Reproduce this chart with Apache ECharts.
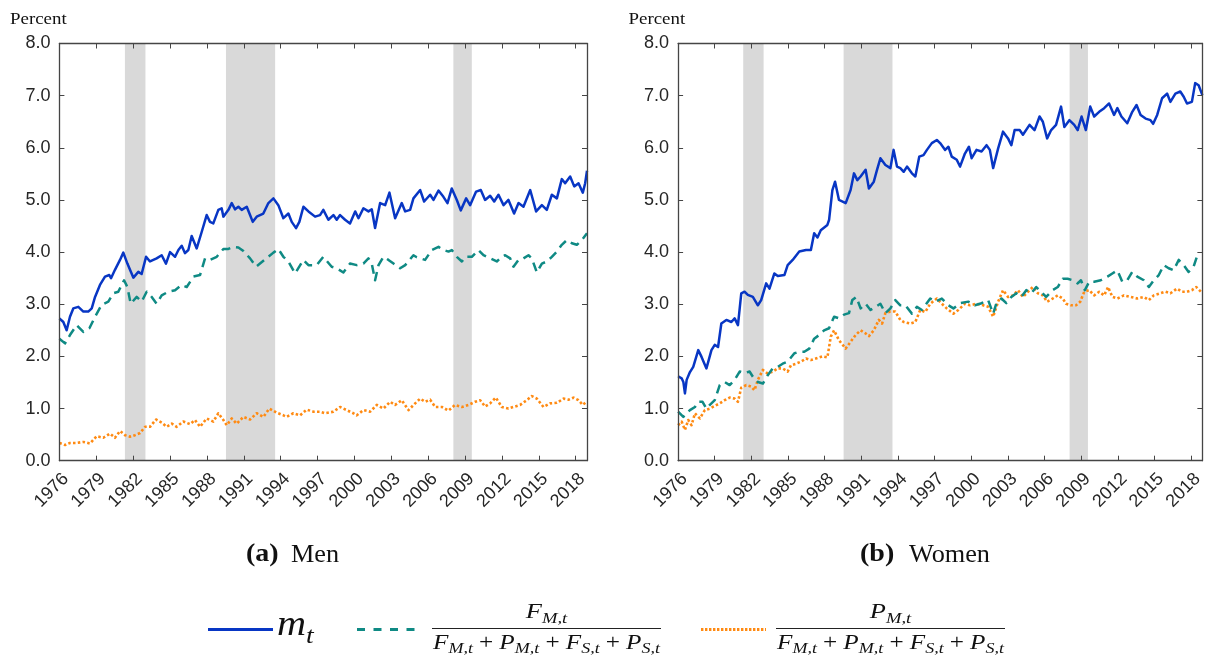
<!DOCTYPE html>
<html>
<head>
<meta charset="utf-8">
<script src="https://cdn.jsdelivr.net/npm/echarts@6/dist/echarts.min.js"></script>
<style>
html,body{margin:0;padding:0;background:#fff;}
#chart{width:1206px;height:655px;}
</style>
</head>
<body>
<div id="chart"></div>
<script>
// ---------------- DATA ----------------
const xTickYears = [1976, 1979, 1982, 1985, 1988, 1991, 1994, 1997, 2000, 2003, 2006, 2009, 2012, 2015, 2018];
const yTickLabels = ['0.0', '1.0', '2.0', '3.0', '4.0', '5.0', '6.0', '7.0', '8.0'];
const recessionStart = [1981.33, 1989.55, 2008.05];
const recessionEnd   = [1983.00, 1993.55, 2009.55];

// Men: m_t (solid blue)
const menMYears = [1976.00,1976.32,1976.59,1976.86,1977.13,1977.54,1977.95,1978.35,1978.63,1978.90,1979.30,1979.71,1980.06,1980.20,1980.52,1980.93,1981.20,1981.53,1982.02,1982.42,1982.69,1983.05,1983.37,1983.91,1984.32,1984.67,1985.00,1985.41,1985.68,1985.95,1986.22,1986.49,1986.76,1987.17,1987.58,1987.98,1988.25,1988.52,1988.93,1989.20,1989.34,1989.75,1990.02,1990.29,1990.56,1990.83,1991.24,1991.51,1991.73,1992.05,1992.59,1993.00,1993.41,1993.81,1994.22,1994.63,1994.90,1995.25,1995.52,1995.85,1996.26,1996.80,1997.20,1997.47,1997.88,1998.29,1998.56,1998.83,1999.24,1999.64,2000.06,2000.33,2000.73,2001.14,2001.41,2001.68,2002.09,2002.50,2002.85,2003.31,2003.85,2004.13,2004.53,2004.80,2005.35,2005.67,2006.16,2006.43,2006.84,2007.24,2007.57,2007.92,2008.33,2008.65,2009.09,2009.41,2009.90,2010.28,2010.63,2011.04,2011.37,2011.72,2012.13,2012.53,2012.99,2013.35,2013.75,2014.30,2014.78,2015.25,2015.65,2016.06,2016.47,2016.87,2017.14,2017.55,2017.88,2018.23,2018.58,2018.77,2018.92];
const menMVals = [2.73,2.66,2.50,2.76,2.92,2.95,2.86,2.86,2.92,3.14,3.37,3.53,3.56,3.50,3.66,3.85,3.99,3.78,3.51,3.62,3.58,3.91,3.82,3.88,3.94,3.78,4.00,3.91,4.04,4.12,3.98,4.04,4.31,4.07,4.39,4.71,4.58,4.55,4.81,4.84,4.68,4.81,4.94,4.82,4.87,4.81,4.87,4.71,4.58,4.68,4.74,4.94,5.03,4.90,4.65,4.74,4.58,4.46,4.58,4.87,4.78,4.68,4.71,4.81,4.62,4.71,4.62,4.71,4.62,4.55,4.78,4.65,4.84,4.78,4.82,4.46,4.94,4.90,5.14,4.65,4.94,4.78,4.81,5.03,5.19,4.97,5.10,5.00,5.18,5.06,4.94,5.22,5.00,4.80,5.03,4.90,5.16,5.19,5.00,5.08,4.97,5.10,4.90,5.00,4.74,4.94,4.87,5.19,4.78,4.90,4.81,5.10,5.03,5.40,5.32,5.45,5.26,5.32,5.14,5.32,5.56];

// Men: F share (dashed teal)
const menFYears = [1976.00,1976.46,1976.86,1977.40,1977.95,1978.44,1978.90,1979.44,1979.98,1980.39,1980.79,1981.26,1981.53,1981.80,1982.29,1982.69,1983.10,1983.51,1983.91,1984.32,1984.86,1985.41,1985.95,1986.36,1986.90,1987.44,1987.85,1988.25,1988.80,1989.34,1989.75,1990.15,1990.56,1990.97,1991.51,1992.00,1992.32,1993.00,1993.41,1993.81,1994.22,1994.63,1995.17,1995.85,1996.26,1996.93,1997.47,1998.15,1998.56,1999.10,1999.64,2000.19,2000.73,2001.14,2001.41,2001.68,2001.96,2002.36,2002.77,2003.18,2003.72,2004.13,2004.80,2005.07,2005.75,2006.29,2006.84,2007.24,2007.65,2007.92,2008.33,2008.74,2009.01,2009.55,2010.09,2010.50,2011.04,2011.58,2011.99,2012.26,2012.67,2012.94,2013.35,2013.75,2014.16,2014.43,2014.84,2015.25,2015.65,2016.06,2016.47,2016.87,2017.28,2017.69,2018.09,2018.50,2018.92];
const menFVals = [2.34,2.25,2.41,2.60,2.47,2.54,2.76,2.99,3.05,3.21,3.24,3.46,3.33,3.01,3.14,3.05,3.24,3.14,3.01,3.17,3.24,3.27,3.37,3.33,3.53,3.56,3.88,3.85,3.91,4.06,4.06,4.10,4.09,4.02,3.88,3.72,3.78,3.91,3.99,4.06,3.91,3.82,3.59,3.85,3.75,3.75,3.91,3.72,3.69,3.61,3.78,3.75,3.78,3.88,3.78,3.46,3.75,3.91,3.85,3.78,3.69,3.75,3.94,3.90,3.85,4.04,4.10,4.04,4.01,4.04,3.91,3.82,3.91,3.91,4.04,3.94,3.88,3.82,3.91,3.94,3.88,3.72,3.85,3.88,3.94,3.88,3.61,3.78,3.82,3.91,4.01,4.14,4.23,4.17,4.14,4.23,4.36];

// Men: P share (dotted orange)
const menPYears = [1976.00,1976.46,1976.86,1977.40,1977.95,1978.49,1979.03,1979.57,1980.12,1980.52,1980.93,1981.34,1981.74,1982.15,1982.56,1982.97,1983.37,1983.86,1984.32,1984.73,1985.14,1985.54,1986.08,1986.63,1987.03,1987.44,1987.98,1988.52,1988.93,1989.34,1989.61,1990.02,1990.42,1990.97,1991.51,1992.05,1992.59,1993.08,1993.68,1994.22,1994.49,1995.03,1995.58,1996.12,1996.67,1997.20,1997.61,1998.29,1998.83,1999.37,1999.91,2000.19,2000.73,2001.28,2001.82,2002.36,2002.90,2003.31,2003.85,2004.40,2004.94,2005.35,2005.75,2006.16,2006.57,2007.11,2007.65,2008.19,2008.74,2009.28,2009.82,2010.23,2010.63,2011.04,2011.50,2011.99,2012.53,2012.94,2013.48,2014.02,2014.43,2014.84,2015.38,2015.92,2016.47,2017.01,2017.41,2017.82,2018.23,2018.58,2018.92];
const menPVals = [0.34,0.30,0.34,0.34,0.36,0.33,0.47,0.44,0.52,0.44,0.57,0.49,0.46,0.49,0.53,0.65,0.65,0.79,0.73,0.65,0.71,0.65,0.75,0.70,0.78,0.65,0.81,0.75,0.91,0.78,0.68,0.81,0.71,0.84,0.79,0.91,0.84,1.00,0.92,0.87,0.84,0.91,0.87,0.98,0.94,0.94,0.91,0.94,1.03,0.97,0.91,0.87,0.97,0.94,1.07,1.00,1.13,1.07,1.16,0.97,1.10,1.19,1.13,1.17,1.03,1.03,0.96,1.07,1.03,1.07,1.13,1.16,1.04,1.10,1.21,1.03,1.00,1.03,1.07,1.16,1.24,1.19,1.03,1.10,1.11,1.19,1.17,1.21,1.16,1.07,1.14];

// Women: m_t (solid blue)
const womMYears = [1976.00,1976.29,1976.43,1976.56,1976.70,1976.97,1977.24,1977.65,1977.92,1978.32,1978.73,1979.00,1979.27,1979.54,1979.95,1980.36,1980.63,1980.90,1981.17,1981.44,1981.71,1982.12,1982.53,1982.80,1983.21,1983.48,1983.88,1984.16,1984.70,1984.97,1985.38,1985.92,1986.47,1986.87,1987.14,1987.41,1987.68,1988.22,1988.36,1988.63,1988.85,1989.17,1989.72,1990.12,1990.40,1990.67,1990.94,1991.35,1991.62,1992.02,1992.29,1992.56,1992.97,1993.38,1993.64,1993.92,1994.19,1994.47,1994.74,1995.14,1995.42,1995.74,1996.09,1996.37,1996.77,1997.18,1997.45,1997.86,1998.13,1998.40,1998.81,1999.08,1999.48,1999.81,2000.03,2000.43,2000.84,2001.25,2001.52,2001.79,2002.20,2002.60,2003.01,2003.28,2003.55,2003.96,2004.23,2004.77,2005.18,2005.59,2005.86,2006.21,2006.54,2006.94,2007.35,2007.62,2008.03,2008.43,2008.71,2009.03,2009.38,2009.74,2010.06,2010.47,2010.88,2011.28,2011.69,2011.96,2012.29,2012.77,2013.18,2013.53,2013.86,2014.27,2014.67,2014.89,2015.22,2015.62,2016.03,2016.30,2016.71,2017.11,2017.39,2017.66,2018.06,2018.33,2018.61,2018.92];
const womMVals = [1.62,1.58,1.51,1.29,1.55,1.70,1.80,2.12,1.99,1.77,2.12,2.22,2.18,2.63,2.70,2.66,2.73,2.60,3.21,3.24,3.18,3.14,2.98,3.08,3.40,3.30,3.59,3.54,3.56,3.75,3.85,4.01,4.04,4.04,4.36,4.28,4.42,4.52,4.62,5.19,5.35,5.00,4.94,5.19,5.51,5.38,5.45,5.58,5.22,5.35,5.58,5.80,5.67,5.61,5.96,5.64,5.61,5.54,5.64,5.51,5.45,5.83,5.86,5.96,6.09,6.15,6.09,5.96,6.02,5.83,5.77,5.64,5.89,6.02,5.80,5.96,5.93,6.05,5.96,5.61,5.99,6.31,6.18,6.05,6.34,6.34,6.25,6.44,6.34,6.60,6.50,6.18,6.34,6.44,6.79,6.40,6.53,6.44,6.34,6.60,6.34,6.79,6.60,6.69,6.76,6.85,6.63,6.76,6.60,6.47,6.69,6.82,6.63,6.56,6.53,6.46,6.63,6.95,7.04,6.88,7.04,7.08,6.98,6.85,6.88,7.24,7.20,7.01];

// Women: F share (dashed teal)
const womFYears = [1976.00,1976.43,1976.70,1976.97,1977.38,1977.65,1978.00,1978.32,1978.60,1979.00,1979.41,1979.81,1980.22,1980.63,1981.04,1981.44,1981.85,1982.12,1982.53,1982.94,1983.34,1983.75,1984.16,1984.56,1984.97,1985.52,1985.92,1986.33,1986.74,1987.14,1987.55,1987.95,1988.36,1988.77,1989.17,1989.58,1989.99,1990.26,1990.59,1990.94,1991.35,1991.75,1992.16,1992.56,1992.97,1993.38,1993.78,1994.19,1994.60,1995.14,1995.55,1995.96,1996.64,1997.04,1997.59,1998.13,1998.54,1999.08,1999.76,2000.30,2000.84,2001.38,2001.79,2002.06,2002.47,2002.87,2003.28,2003.69,2004.10,2004.50,2004.91,2005.32,2005.72,2006.13,2006.67,2007.08,2007.49,2007.89,2008.30,2008.71,2008.98,2009.30,2009.65,2010.06,2010.60,2011.15,2011.55,2011.96,2012.37,2012.77,2013.18,2013.59,2014.13,2014.54,2014.94,2015.35,2015.76,2016.16,2016.57,2016.98,2017.39,2017.79,2018.20,2018.47,2018.80];
const womFVals = [0.94,0.84,0.91,0.97,1.03,1.13,1.13,1.00,1.07,1.16,1.45,1.51,1.45,1.55,1.71,1.68,1.71,1.61,1.51,1.48,1.64,1.77,1.80,1.86,1.90,2.06,2.09,2.09,2.15,2.34,2.41,2.50,2.54,2.76,2.73,2.80,2.83,3.08,3.14,2.92,3.01,2.89,2.95,3.01,2.83,2.92,3.08,2.98,2.98,2.82,2.95,2.89,3.11,3.05,3.11,2.98,2.92,3.02,3.05,2.98,3.02,3.08,2.82,3.02,3.11,3.02,3.14,3.21,3.14,3.27,3.21,3.33,3.24,3.14,3.27,3.33,3.49,3.49,3.46,3.40,3.46,3.27,3.43,3.43,3.46,3.53,3.59,3.65,3.43,3.46,3.62,3.53,3.46,3.33,3.46,3.56,3.75,3.69,3.65,3.85,3.75,3.62,3.72,3.91,3.97];

// Women: P share (dotted orange)
const womPYears = [1976.00,1976.29,1976.56,1976.83,1977.10,1977.38,1977.78,1978.19,1978.60,1979.00,1979.41,1979.81,1980.22,1980.63,1980.90,1981.17,1981.58,1981.98,1982.25,1982.53,1982.94,1983.34,1983.75,1984.16,1984.56,1984.97,1985.24,1985.65,1986.06,1986.47,1986.87,1987.28,1987.82,1988.22,1988.50,1988.77,1989.17,1989.72,1990.12,1990.53,1990.94,1991.35,1991.62,1992.02,1992.43,1992.70,1992.97,1993.38,1993.78,1994.19,1994.47,1995.01,1995.42,1995.82,1996.23,1996.64,1997.18,1997.59,1997.99,1998.54,1998.94,1999.48,1999.89,2000.43,2000.98,2001.38,2001.79,2002.20,2002.60,2003.01,2003.42,2003.82,2004.23,2004.64,2005.04,2005.45,2005.86,2006.21,2006.67,2007.08,2007.49,2007.76,2008.16,2008.57,2008.92,2009.25,2009.65,2010.06,2010.47,2010.88,2011.20,2011.55,2011.96,2012.50,2013.05,2013.59,2014.13,2014.54,2014.94,2015.49,2015.89,2016.30,2016.84,2017.25,2017.66,2018.06,2018.42,2018.80];
const womPVals = [0.68,0.75,0.59,0.78,0.68,0.91,0.81,0.97,1.00,1.05,1.10,1.16,1.21,1.19,1.13,1.40,1.45,1.42,1.35,1.55,1.74,1.67,1.71,1.77,1.77,1.71,1.83,1.86,1.90,1.96,1.93,1.96,2.00,1.98,2.38,2.50,2.31,2.15,2.28,2.41,2.50,2.44,2.39,2.50,2.70,2.63,2.83,2.86,2.86,2.70,2.66,2.63,2.66,2.89,2.85,3.01,3.11,3.01,2.92,2.82,2.89,3.01,2.98,3.01,2.98,2.95,2.76,3.05,3.27,3.14,3.17,3.27,3.14,3.24,3.33,3.21,3.17,3.05,3.11,3.17,3.11,3.01,2.98,2.98,3.05,3.24,3.27,3.17,3.24,3.17,3.33,3.14,3.11,3.17,3.14,3.11,3.14,3.08,3.17,3.21,3.24,3.21,3.30,3.24,3.24,3.27,3.33,3.24];

// ---------------- CHART ----------------
const X0 = xTickYears[0];
const XMAX = 2018.92 - X0;
const COL_BLUE = '#0836c4', COL_TEAL = '#0f8a84', COL_ORANGE = '#ff8a12';
const AX_COL = '#454545';
const SANS = '"Liberation Sans", Arial, Helvetica, sans-serif';
const SERIF = '"Liberation Serif", "Times New Roman", serif';

function pts(years, vals) { return years.map((y, i) => [+(y - X0).toFixed(3), vals[i]]); }

const grids = [
  { left: 59.4, top: 43.5, width: 527.6, height: 417.2 },
  { left: 678.1, top: 43.5, width: 527.4, height: 417.2 }
];

function xAx(gi, pos) {
  const main = pos === 'bottom';
  return {
    type: 'value', gridIndex: gi, position: pos, min: 0, max: XMAX, interval: 3, z: 10,
    axisLine: { show: true, onZero: false, lineStyle: { color: AX_COL, width: 1.3 } },
    axisTick: { show: true, inside: true, length: 5, lineStyle: { color: AX_COL, width: 1 } },
    splitLine: { show: false },
    axisLabel: {
      show: main, rotate: 45, margin: 9, fontSize: 18, fontFamily: SANS, color: '#262626',
      align: 'right', verticalAlign: 'top', showMaxLabel: false, hideOverlap: false,
      formatter: v => {
        const yr = Math.round(v) + X0;
        return (Math.abs(v - Math.round(v)) < 1e-6 && xTickYears.indexOf(yr) >= 0) ? String(yr) : '';
      }
    }
  };
}
function yAx(gi, pos) {
  const main = pos === 'left';
  return {
    type: 'value', gridIndex: gi, position: pos, min: 0, max: 8, interval: 1, z: 10,
    axisLine: { show: true, onZero: false, lineStyle: { color: AX_COL, width: 1.3 } },
    axisTick: { show: true, inside: true, length: 5, lineStyle: { color: AX_COL, width: 1 } },
    splitLine: { show: false },
    axisLabel: {
      show: main, margin: 9, fontSize: 18, fontFamily: SANS, color: '#262626',
      formatter: v => yTickLabels[Math.round(v)] || ''
    }
  };
}

function recessionSeries(gi) {
  return {
    type: 'custom', xAxisIndex: gi, yAxisIndex: gi, z: 1, silent: true, clip: true,
    encode: { x: [0, 1] },
    data: recessionStart.map((s, i) => [s - X0, recessionEnd[i] - X0]),
    renderItem: (params, api) => {
      const p0 = api.coord([api.value(0), 8]);
      const p1 = api.coord([api.value(1), 0]);
      return { type: 'rect', shape: { x: p0[0], y: p0[1], width: p1[0] - p0[0], height: p1[1] - p0[1] },
               style: { fill: '#d9d9d9' } };
    }
  };
}
function lineSeries(gi, years, vals, color, dash, width, z) {
  return {
    type: 'line', xAxisIndex: gi, yAxisIndex: gi, data: pts(years, vals), showSymbol: false, symbol: 'none',
    silent: true, z: z, clip: true,
    lineStyle: { color: color, width: width, type: dash, cap: 'butt', join: 'round' }
  };
}

// ---- math text helper for legend ----
const mctx = document.createElement('canvas').getContext('2d');
const MSX = 1.2; // horizontal stretch to mimic Computer Modern widths
function fontOf(p) { return (p.bold ? 'bold ' : '') + (p.italic ? 'italic ' : '') + p.size + 'px ' + SERIF; }
function tw(p) { mctx.font = fontOf(p); return mctx.measureText(p.t).width * (p.sx || 1); }
function mathRow(parts, cx, baseline, target, left) {
  parts.forEach(p => { if (p.sx === undefined) p.sx = MSX; });
  const ws = parts.map(tw);
  const nat = ws.reduce((a, b) => a + b, 0);
  const nOps = parts.filter(p => p.op).length;
  const pad = (target && nOps) ? Math.max(0, (target - nat) / (2 * nOps)) : 0;
  const total = nat + pad * 2 * nOps;
  let x = left !== undefined ? left : cx - total / 2;
  const els = [];
  parts.forEach((p, i) => {
    if (p.op) x += pad;
    els.push({
      type: 'text', x: x, y: baseline + (p.dy || 0) - 0.32 * p.size, scaleX: p.sx, silent: true,
      style: { text: p.t, font: fontOf(p), fill: '#111', align: 'left', verticalAlign: 'middle' }
    });
    x += ws[i];
    if (p.op) x += pad;
  });
  return els;
}
function denomParts() {
  const M = 21, S = 15, d = 3.5;
  return [
    { t: 'F', size: M, italic: true }, { t: 'M,t', size: S, italic: true, dy: d },
    { t: '+', size: M, op: true },
    { t: 'P', size: M, italic: true }, { t: 'M,t', size: S, italic: true, dy: d },
    { t: '+', size: M, op: true },
    { t: 'F', size: M, italic: true }, { t: 'S,t', size: S, italic: true, dy: d },
    { t: '+', size: M, op: true },
    { t: 'P', size: M, italic: true }, { t: 'S,t', size: S, italic: true, dy: d }
  ];
}

const LEG_Y = 629.5;
const frac1 = { x0: 432, x1: 661 };
const frac2 = { x0: 776, x1: 1005 };
let graphics = [];
// "Percent" labels
graphics.push({ type: 'text', x: 10, y: 19.5, silent: true, scaleX: 1.08, style: { text: 'Percent', font: '17.5px ' + SERIF, fill: '#111', verticalAlign: 'middle' } });
graphics.push({ type: 'text', x: 628.5, y: 19.5, silent: true, scaleX: 1.08, style: { text: 'Percent', font: '17.5px ' + SERIF, fill: '#111', verticalAlign: 'middle' } });
// captions
graphics.push({ type: 'text', x: 246, y: 555, silent: true, scaleX: 1.12, style: { text: '(a)', font: 'bold 25px ' + SERIF, fill: '#111', verticalAlign: 'middle' } });
graphics.push({ type: 'text', x: 291, y: 555, silent: true, scaleX: 1.05, style: { text: 'Men', font: '25px ' + SERIF, fill: '#111', verticalAlign: 'middle' } });
graphics.push({ type: 'text', x: 860, y: 555, silent: true, scaleX: 1.12, style: { text: '(b)', font: 'bold 25px ' + SERIF, fill: '#111', verticalAlign: 'middle' } });
graphics.push({ type: 'text', x: 909, y: 555, silent: true, scaleX: 1.05, style: { text: 'Women', font: '25px ' + SERIF, fill: '#111', verticalAlign: 'middle' } });
// legend samples
graphics.push({ type: 'line', silent: true, shape: { x1: 208, y1: LEG_Y, x2: 273, y2: LEG_Y }, style: { stroke: COL_BLUE, lineWidth: 3 } });
graphics.push({ type: 'line', silent: true, shape: { x1: 357, y1: LEG_Y, x2: 417, y2: LEG_Y }, style: { stroke: COL_TEAL, lineWidth: 3, lineDash: [8, 8.5] } });
graphics.push({ type: 'line', silent: true, shape: { x1: 701, y1: LEG_Y, x2: 766, y2: LEG_Y }, style: { stroke: COL_ORANGE, lineWidth: 3, lineDash: [2.4, 1.6] } });
// m_t
graphics = graphics.concat(mathRow([{ t: 'm', size: 35, italic: true, sx: 1.15 }, { t: 't', size: 23, italic: true, dy: 7 }], 0, 637, 0, 277));
// fraction 1
graphics.push({ type: 'line', silent: true, shape: { x1: frac1.x0, y1: 628.5, x2: frac1.x1, y2: 628.5 }, style: { stroke: '#222', lineWidth: 1.1 } });
graphics = graphics.concat(mathRow([{ t: 'F', size: 22, italic: true }, { t: 'M,t', size: 15.5, italic: true, dy: 4.5 }], (frac1.x0 + frac1.x1) / 2, 619));
graphics = graphics.concat(mathRow(denomParts(), (frac1.x0 + frac1.x1) / 2, 650, frac1.x1 - frac1.x0 - 2));
// fraction 2
graphics.push({ type: 'line', silent: true, shape: { x1: frac2.x0, y1: 628.5, x2: frac2.x1, y2: 628.5 }, style: { stroke: '#222', lineWidth: 1.1 } });
graphics = graphics.concat(mathRow([{ t: 'P', size: 22, italic: true }, { t: 'M,t', size: 15.5, italic: true, dy: 4.5 }], (frac2.x0 + frac2.x1) / 2, 619));
graphics = graphics.concat(mathRow(denomParts(), (frac2.x0 + frac2.x1) / 2, 650, frac2.x1 - frac2.x0 - 2));

const option = {
  animation: false,
  backgroundColor: '#ffffff',
  grid: grids,
  xAxis: [xAx(0, 'bottom'), xAx(1, 'bottom'), xAx(0, 'top'), xAx(1, 'top')],
  yAxis: [yAx(0, 'left'), yAx(1, 'left'), yAx(0, 'right'), yAx(1, 'right')],
  series: [
    recessionSeries(0), recessionSeries(1),
    lineSeries(0, menPYears, menPVals, COL_ORANGE, [2.5, 2.3], 2.6, 3),
    lineSeries(0, menFYears, menFVals, COL_TEAL, [9, 6], 2.5, 4),
    lineSeries(0, menMYears, menMVals, COL_BLUE, 'solid', 2.5, 5),
    lineSeries(1, womPYears, womPVals, COL_ORANGE, [2.5, 2.3], 2.6, 3),
    lineSeries(1, womFYears, womFVals, COL_TEAL, [9, 6], 2.5, 4),
    lineSeries(1, womMYears, womMVals, COL_BLUE, 'solid', 2.5, 5)
  ],
  graphic: { elements: graphics }
};

const chart = echarts.init(document.getElementById('chart'), null, { renderer: 'canvas' });
chart.setOption(option);
</script>
</body>
</html>
